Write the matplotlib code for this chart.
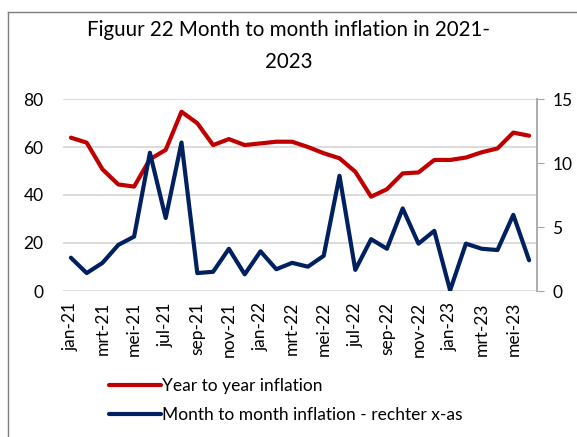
import matplotlib
matplotlib.use("Agg")
import matplotlib.pyplot as plt
from matplotlib.lines import Line2D

plt.rcParams['font.family'] = ['Lato', 'DejaVu Sans']

months = ['jan-21', 'feb-21', 'mrt-21', 'apr-21', 'mei-21', 'jun-21', 'jul-21', 'aug-21',
          'sep-21', 'okt-21', 'nov-21', 'dec-21', 'jan-22', 'feb-22', 'mrt-22', 'apr-22',
          'mei-22', 'jun-22', 'jul-22', 'aug-22', 'sep-22', 'okt-22', 'nov-22', 'dec-22',
          'jan-23', 'feb-23', 'mrt-23', 'apr-23', 'mei-23', 'jun-23']

year_to_year = [63.9, 61.8, 50.7, 44.4, 43.5, 54.9, 58.8, 74.7, 69.9, 60.8,
                63.3, 60.8, 61.5, 62.2, 62.2, 60.0, 57.4, 55.3, 49.7, 39.3,
                42.4, 49.0, 49.4, 54.6, 54.6, 55.6, 57.8, 59.4, 66.0, 64.7]

month_to_month = [2.6, 1.4, 2.2, 3.6, 4.25, 10.8, 5.7, 11.6, 1.4, 1.5,
                  3.3, 1.3, 3.1, 1.7, 2.2, 1.9, 2.75, 9.0, 1.65, 4.05,
                  3.3, 6.45, 3.7, 4.7, 0.05, 3.7, 3.3, 3.2, 5.95, 2.4]

red = '#C00000'
blue = '#002060'
grid_c = '#D9D9D9'

fig = plt.figure(figsize=(5.77, 4.37), dpi=100)
ax = fig.add_axes([63 / 577, 1 - 291 / 437, (537 - 63) / 577, (291 - 99) / 437])
ax2 = ax.twinx()

x = list(range(len(months)))
ax.plot(x, year_to_year, color=red, lw=3, solid_capstyle='round', solid_joinstyle='round')
ax2.plot(x, month_to_month, color=blue, lw=3, solid_capstyle='round', solid_joinstyle='round')

ax.set_xlim(-0.5, len(months) - 0.5)
ax.set_ylim(0, 80)
ax.set_yticks(range(0, 81, 20))
ax2.set_ylim(0, 15)
ax2.set_yticks(range(0, 16, 5))

ax.set_xticks(x[::2])
ax.set_xticklabels(months[::2], rotation=90, fontsize=12.5)
ax.tick_params(axis='x', length=0, pad=8)
ax.tick_params(axis='y', length=0, labelsize=12.5, pad=14)
ax2.tick_params(axis='y', length=5, color='#A6A6A6', labelsize=12.5, pad=6)

ax.grid(axis='y', color=grid_c, lw=1.3)
ax.set_axisbelow(True)
for a in (ax, ax2):
    for s in ('top', 'left', 'right', 'bottom'):
        a.spines[s].set_visible(False)
ax2.spines['right'].set_visible(True)
ax2.spines['right'].set_color('#A6A6A6')
ax2.spines['right'].set_linewidth(1.3)

fig.text(0.5, 1 - 46 / 437, 'Figuur 22 Month to month inflation in 2021-\n2023',
         ha='center', va='center', fontsize=14.8, linespacing=1.7)

handles = [Line2D([], [], color=red, lw=3, solid_capstyle='round'),
           Line2D([], [], color=blue, lw=3, solid_capstyle='round')]
labels = ['Year to year inflation', 'Month to month inflation - rechter x-as']
fig.legend(handles, labels, loc='upper left', bbox_to_anchor=(93 / 577, 1 - 362 / 437),
           frameon=False, fontsize=12.5, handlelength=3.0, handletextpad=0.1,
           labelspacing=0.75)

# chart frame
fig.add_artist(Line2D([8 / 577, 8 / 577], [0, 1 - 12 / 437], transform=fig.transFigure,
                      color='#7F7F7F', lw=1))
fig.add_artist(Line2D([8 / 577, 1], [1 - 12 / 437, 1 - 12 / 437], transform=fig.transFigure,
                      color='#7F7F7F', lw=1))

fig.savefig('out.png', dpi=100)
